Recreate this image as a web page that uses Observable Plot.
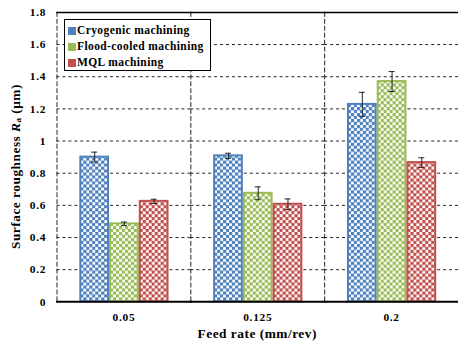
<!DOCTYPE html>
<html><head><meta charset="utf-8">
<script src="https://cdn.jsdelivr.net/npm/d3@7"></script>
<script src="https://cdn.jsdelivr.net/npm/@observablehq/plot@0.6"></script>
<style>
html,body{margin:0;padding:0;background:#fff;overflow:hidden;}
#wrap{position:relative;width:458px;height:344px;overflow:hidden;}
#legend{position:absolute;left:64px;top:19px;width:145px;height:50px;border:1.5px solid #000;background:#fff;
  font-family:"Liberation Serif","Times New Roman",serif;font-weight:bold;font-size:11.5px;letter-spacing:0.4px;box-sizing:content-box;}
.item{position:absolute;left:3px;height:14px;line-height:14px;white-space:nowrap;}
.sw{display:inline-block;width:8px;height:8px;vertical-align:-0.5px;margin-right:1px;}
</style></head>
<body><div id="wrap"></div>
<script>
const feeds = ["0.05", "0.125", "0.2"];
const methods = ["Cryogenic machining", "Flood-cooled machining", "MQL machining"];
const colors = ["#4F81BD", "#9BBB59", "#C0504D"];
const cryogenic = [0.90, 0.908, 1.228];
const cryogenicErr = [0.031, 0.016, 0.075];
const flood = [0.485, 0.675, 1.37];
const floodErr = [0.011, 0.04, 0.062];
const mql = [0.625, 0.607, 0.866];
const mqlErr = [0.013, 0.033, 0.03];
const yTicks = [0, 0.2, 0.4, 0.6, 0.8, 1, 1.2, 1.4, 1.6, 1.8];

const series = [cryogenic, flood, mql];
const errs = [cryogenicErr, floodErr, mqlErr];
const data = [];
methods.forEach((m, i) => feeds.forEach((f, j) => data.push({
  method: m, idx: i, feed: f, value: series[i][j], err: errs[i][j]
})));

const serif = "'Liberation Serif','Times New Roman',serif";
const grid = yTicks.filter(t => t > 0 && t < 1.8);

const chart = Plot.plot({
  width: 462, height: 344,
  marginLeft: 57, marginRight: 0, marginTop: 12, marginBottom: 40,
  style: {fontFamily: serif, fontWeight: "bold", fontSize: "11.5px", letterSpacing: "0.7px", background: "#fff", overflow: "visible"},
  fx: {domain: feeds, padding: 0, label: null, axis: "bottom", tickSize: 0, tickPadding: 11},
  x: {domain: methods, paddingInner: 0, paddingOuter: 0.68, axis: null},
  y: {domain: [0, 1.8], axis: null},
  marks: [
    Plot.ruleY(grid, {stroke: "#222", strokeWidth: 1, strokeDasharray: "3,3"}),
    Plot.frame({anchor: "left", stroke: "#222", strokeWidth: 1, strokeDasharray: "4,3"}),
    ...methods.map((m, i) => Plot.barY(data.filter(d => d.idx === i), {
      fx: "feed", x: "method", y: "value",
      fill: `url(#pat${i})`, stroke: colors[i], strokeWidth: 2, insetLeft: 1, insetRight: 1
    })),
    Plot.ruleX(data, {fx: "feed", x: "method", y1: d => d.value - d.err, y2: d => d.value + d.err, stroke: "#222", strokeWidth: 1}),
    Plot.tickY(data, {fx: "feed", x: "method", y: d => d.value - d.err, stroke: "#222", strokeWidth: 1, insetLeft: 12, insetRight: 12}),
    Plot.tickY(data, {fx: "feed", x: "method", y: d => d.value + d.err, stroke: "#222", strokeWidth: 1, insetLeft: 12, insetRight: 12}),
    Plot.frame({anchor: "top", stroke: "#000", strokeWidth: 1.5}),
    Plot.frame({anchor: "bottom", stroke: "#000", strokeWidth: 2}),
    Plot.axisY({ticks: yTicks, tickSize: 0, tickPadding: 11, tickFormat: d => d3.format("~g")(d),
      label: null, fill: "#000"}),
    Plot.axisY({ticks: [], tickSize: 0, label: null, line: true, stroke: "#000", strokeWidth: 2})
  ]
});

// patterns
const ns = "http://www.w3.org/2000/svg";
const defs = document.createElementNS(ns, "defs");
colors.forEach((c, i) => {
  const p = document.createElementNS(ns, "pattern");
  p.setAttribute("id", "pat" + i);
  p.setAttribute("patternUnits", "userSpaceOnUse");
  p.setAttribute("width", 6); p.setAttribute("height", 6);
  p.innerHTML = `<rect width="6" height="6" fill="#fff"/><rect width="3.3" height="3.3" fill="${c}"/><rect x="3" y="3" width="3.3" height="3.3" fill="${c}"/>`;
  defs.appendChild(p);
});
chart.insertBefore(defs, chart.firstChild);

// axis titles
const xLeft = 57, xRight = 462;
const yl = document.createElementNS(ns, "text");
yl.setAttribute("transform", `translate(15.5,168) rotate(-90)`);
yl.setAttribute("text-anchor", "middle");
yl.setAttribute("dominant-baseline", "central");
yl.setAttribute("font-size", "13.5");
yl.setAttribute("letter-spacing", "0.5");
yl.setAttribute("font-weight", "bold");
yl.setAttribute("font-family", serif);
yl.innerHTML = `Surface roughness <tspan font-style="italic">R</tspan><tspan font-size="9" dy="3">a</tspan><tspan dy="-3"> (μm)</tspan>`;
chart.appendChild(yl);
const xl = document.createElementNS(ns, "text");
xl.setAttribute("x", (xLeft + xRight) / 2);
xl.setAttribute("y", 341);
xl.setAttribute("text-anchor", "middle");
xl.setAttribute("font-size", "13.5");
xl.setAttribute("letter-spacing", "0.5");
xl.setAttribute("font-weight", "bold");
xl.setAttribute("font-family", serif);
xl.textContent = "Feed rate (mm/rev)";
chart.appendChild(xl);

const wrap = document.getElementById("wrap");
wrap.appendChild(chart);

// legend
const lg = document.createElement("div");
lg.id = "legend";
methods.forEach((m, i) => {
  const it = document.createElement("div");
  it.className = "item";
  it.style.top = (3 + i * 16) + "px";
  it.innerHTML = `<span class="sw" style="background:${colors[i]}"></span>${m}`;
  lg.appendChild(it);
});
wrap.appendChild(lg);
</script></body></html>
